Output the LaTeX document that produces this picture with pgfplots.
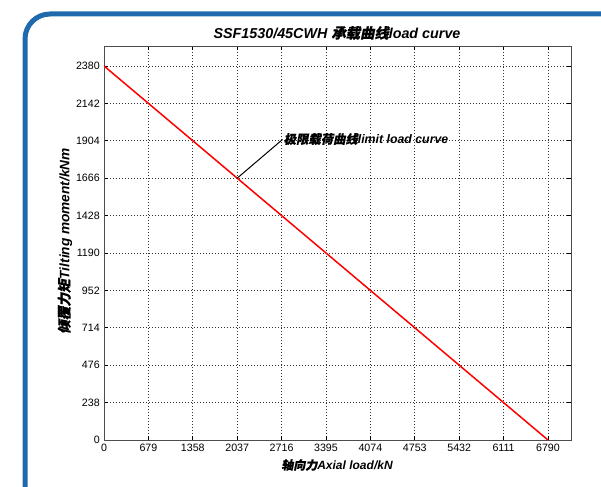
\documentclass[border=0pt]{standalone}
\usepackage{pgfplots}
\pgfplotsset{compat=1.18}
\usepackage{fontspec}
\setmainfont{Liberation Sans}
\newfontfamily\cjk{Noto Sans CJK SC}[FakeSlant=0.2,FakeBold=0.6]
\definecolor{frameblue}{RGB}{30,106,172}
\begin{document}
\begin{tikzpicture}
\path[use as bounding box,fill=white] (0pt,0pt) rectangle (360.6pt,291.6pt);
\begin{scope}
\clip (0pt,0pt) rectangle (360.6pt,291.6pt);
\draw[frameblue,line width=3pt] (15pt,-6pt) -- (15pt,268.2pt) arc[start angle=180,end angle=90,radius=15pt] -- (372pt,283.2pt);
\end{scope}
\begin{axis}[
  at={(62.4pt,27.6pt)}, anchor=south west,
  scale only axis, width=280.2pt, height=236.4pt,
  xmin=0, xmax=7142, ymin=0, ymax=2507,
  xtick={0,679,1358,2037,2716,3395,4074,4753,5432,6111,6790},
  ytick={0,238,476,714,952,1190,1428,1666,1904,2142,2380},
  scaled ticks=false,
  /pgf/number format/.cd, 1000 sep={}, assume math mode=true, /pgfplots/.cd,
  tick label style={font=\fontsize{6.4}{7.5}\selectfont},
  xticklabel style={yshift=1pt},
  yticklabel style={xshift=1pt},
  grid=major,
  major grid style={black!80, dash pattern=on 0.6pt off 1.2pt, line width=0.4pt},
  axis line style={gray!60!black, line width=0.5pt},
  major tick length=2.4pt,
  tick style={black, line width=0.4pt},
  tick align=inside,
]
\addplot[red, line width=0.9pt] coordinates {(0,2380) (6790,0)};
\draw[black, line width=0.6pt] (axis cs:2037,1666) -- (axis cs:2730,1912);
\node[anchor=west, inner sep=0pt, font=\fontsize{7.4}{9}\selectfont\bfseries\itshape] at (axis cs:2745,1915) {{\cjk 极限载荷曲线}limit load curve};
\end{axis}
\node[font=\fontsize{8.6}{10}\selectfont\bfseries\itshape] at (202.2pt,271.8pt) {SSF1530/45CWH {\cjk 承载曲线}load curve};
\node[font=\fontsize{7.2}{9}\selectfont\bfseries\itshape] at (202.2pt,12.6pt) {{\cjk 轴向力}Axial load/kN};
\node[rotate=90, font=\fontsize{8.2}{10}\selectfont\bfseries\itshape] at (39pt,147pt) {{\cjk 倾覆力矩}Tilting moment/kNm};
\end{tikzpicture}
\end{document}
